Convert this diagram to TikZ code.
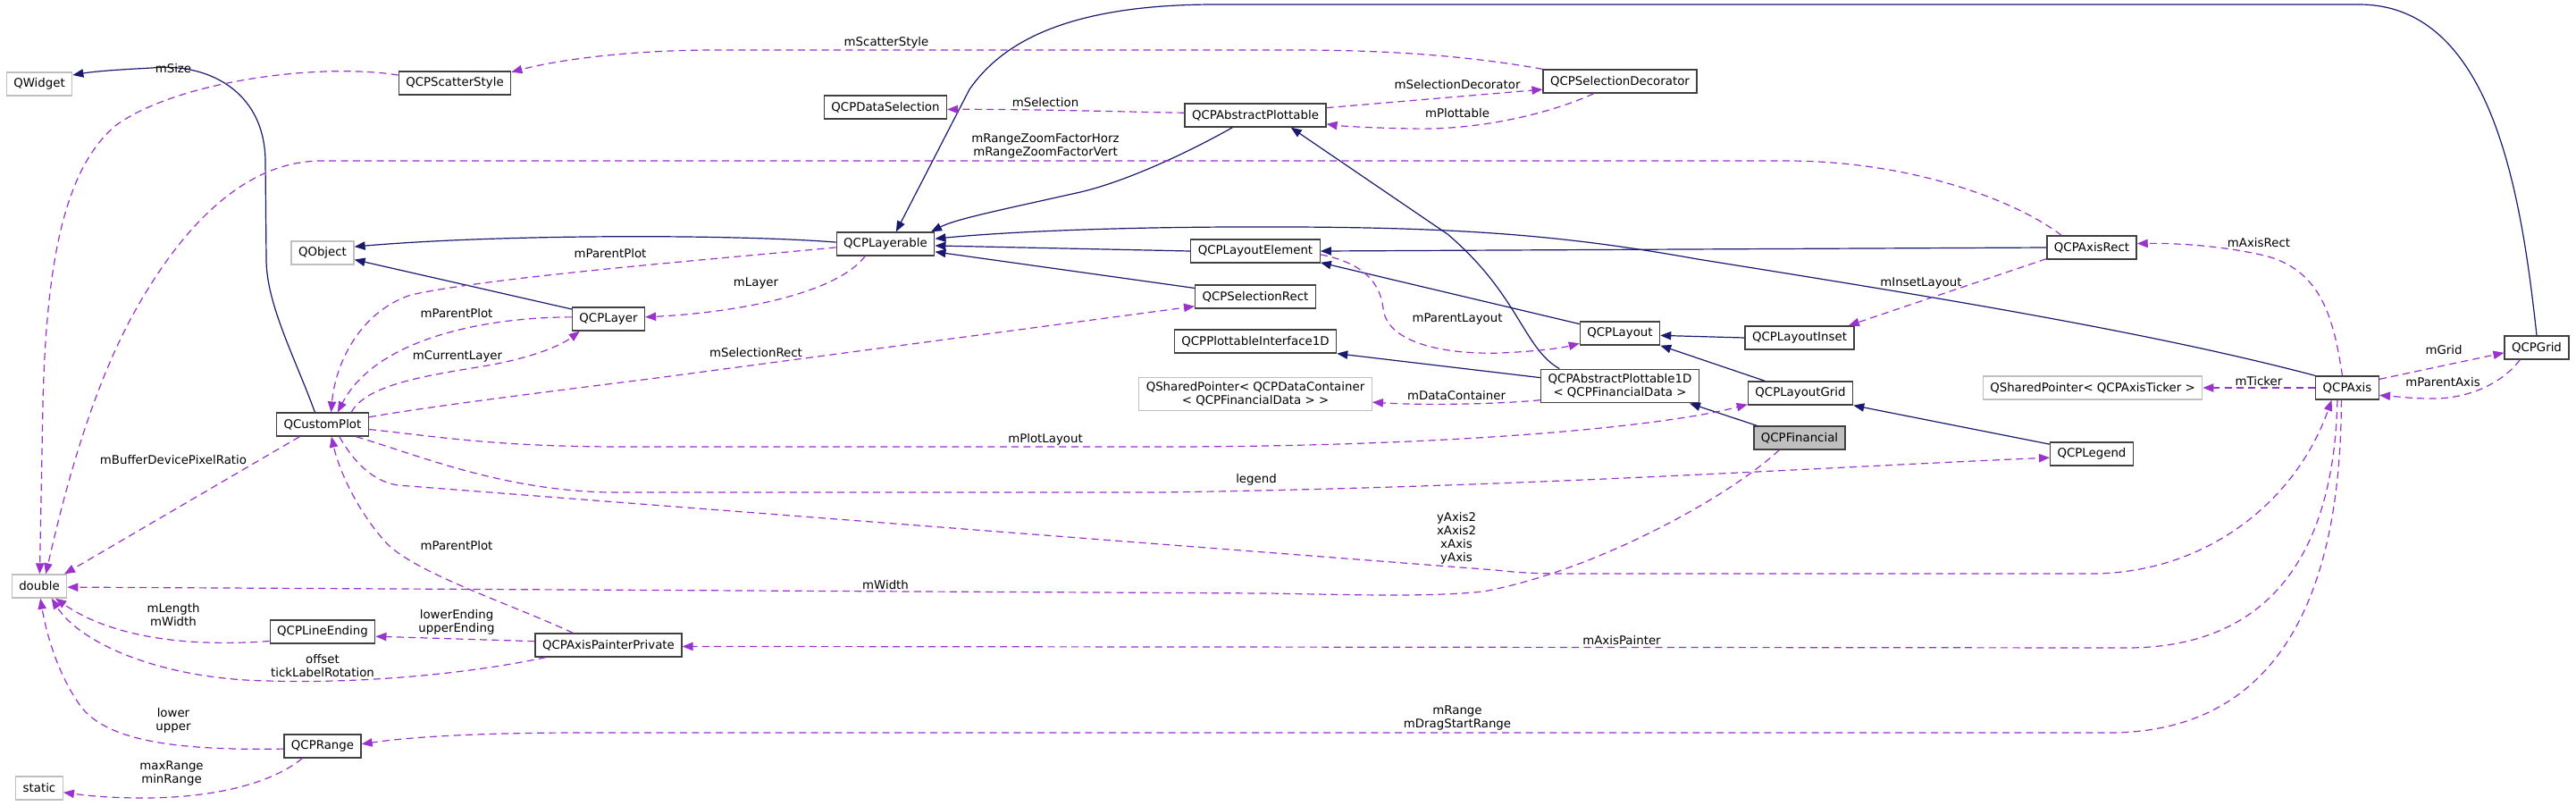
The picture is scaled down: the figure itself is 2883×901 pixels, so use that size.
\documentclass[tikz,border=0pt]{standalone}
\usepackage{fontspec}
\setmainfont{DejaVu Sans}
\usepackage{xcolor}
\usepackage{tikz}
\usetikzlibrary{arrows.meta}

\definecolor{herencia}{HTML}{191970}
\definecolor{uso}{HTML}{9A32CD}
\definecolor{externo}{HTML}{BFBFBF}
\definecolor{borde}{HTML}{404040}

\begin{document}
\begin{tikzpicture}[x=0.75pt, y=-0.75pt,
  clase/.style={draw=borde, line width=1pt, fill=white, font=\fontsize{10}{11.25}\selectfont, inner xsep=6pt, inner ysep=4pt, minimum height=19.5pt, align=center},
  externa/.style={clase, draw=externo},
  actual/.style={clase, fill=externo},
  etiqueta/.style={font=\fontsize{10}{11.25}\selectfont, inner sep=0pt, align=center},
  hereda/.style={draw=herencia, line width=0.9pt, -{Triangle[length=9pt,width=7pt]}},
  usa/.style={draw=uso, line width=0.9pt, dash pattern=on 6pt off 4pt, -{Triangle[length=9pt,width=7pt]}}]
\path[use as bounding box, fill=white] (0,0) rectangle (2883,901);

% Clases
\node[externa] (qwidget) at (44,94) {QWidget};
\node[clase] (scatter) at (509,93) {QCPScatterStyle};
\node[clase] (datasel) at (991,120) {QCPDataSelection};
\node[clase] (absplot) at (1405,129) {QCPAbstractPlottable};
\node[clase] (seldeco) at (1813,91) {QCPSelectionDecorator};
\node[externa] (qobject) at (361,283) {QObject};
\node[clase] (layerable) at (991,273) {QCPLayerable};
\node[clase] (layoutel) at (1405,281) {QCPLayoutElement};
\node[clase] (axisrect) at (2341,277) {QCPAxisRect};
\node[clase] (layer) at (681,357) {QCPLayer};
\node[clase] (selrect) at (1405,332) {QCPSelectionRect};
\node[clase] (layout) at (1813,373) {QCPLayout};
\node[clase] (plotif) at (1405,382) {QCPPlottableInterface1D};
\node[clase] (inset) at (2014,378) {QCPLayoutInset};
\node[clase] (grid) at (2839,389) {QCPGrid};
\node[clase] (custplot) at (361,475) {QCustomPlot};
\node[externa] (datacont) at (1405,441) {QSharedPointer< QCPDataContainer\\< QCPFinancialData > >};
\node[clase] (absplot1d) at (1813,432) {QCPAbstractPlottable1D\\< QCPFinancialData >};
\node[clase] (laygrid) at (2015,440) {QCPLayoutGrid};
\node[externa] (ticker) at (2342,434) {QSharedPointer< QCPAxisTicker >};
\node[clase] (axis) at (2627,434) {QCPAxis};
\node[actual] (financial) at (2014,490) {QCPFinancial};
\node[clase] (legend) at (2341,508) {QCPLegend};
\node[externa] (dbl) at (44,656) {double};
\node[clase] (lineend) at (361,707) {QCPLineEnding};
\node[clase] (painter) at (681,722) {QCPAxisPainterPrivate};
\node[clase] (range) at (361,835) {QCPRange};
\node[externa] (stat) at (44,882) {static};

% Herencia
\draw[hereda] (custplot.122) .. controls (330,400) and (298,340) .. (298,290) -- (297,180) .. controls (296,100) and (230,70) .. (170,76) .. controls (130,78) and (105,80) .. (qwidget.15);
\draw[hereda] (layerable.178) .. controls (820,262) and (560,262) .. (qobject.11);
\draw[hereda] (layer.165) -- (qobject.-12);
\draw[hereda] (absplot.208) .. controls (1340,165) and (1260,205) .. (1200,217) .. controls (1120,235) and (1070,245) .. (layerable.15);
\draw[hereda] (layoutel.180) -- (layerable.-2);
\draw[hereda] (selrect.172) -- (layerable.-9);
\draw[hereda] (grid.north) .. controls (2822,220) and (2790,5) .. (2640,5) -- (1360,5) .. controls (1190,5) and (1120,50) .. (1085,100) -- (layerable.49);
\draw[hereda] (axis.north west) .. controls (2400,370) and (2150,330) .. (1900,290) .. controls (1760,265) and (1650,255) .. (1450,254) .. controls (1250,253) and (1120,260) .. (layerable.6);
\draw[hereda] (layout.167) -- (layoutel.-10);
\draw[hereda] (axisrect.180) -- (layoutel.east);
\draw[hereda] (inset.180) -- (layout.-3);
\draw[hereda] (laygrid.161) -- (layout.south east);
\draw[hereda] (legend.167) -- (laygrid.south east);
\draw[hereda] (absplot1d.164) .. controls (1705,390) and (1700,330) .. (1620,262) -- (absplot.-19);
\draw[hereda] (absplot1d.174) -- (plotif.south east);
\draw[hereda] (financial.164) -- (absplot1d.-14);

% Miembros
\draw[usa] (seldeco.north west) .. controls (1640,62) and (1550,56) .. (1450,56) -- (800,56) .. controls (700,56) and (620,68) .. (scatter.11);
\draw[usa] (scatter.172) .. controls (360,70) and (200,90) .. (130,140) .. controls (70,190) and (52,300) .. (48,450) -- (dbl.88);
\draw[usa] (absplot.178) .. controls (1250,125) and (1150,122) .. (datasel.-2);
\draw[usa] (absplot.6) -- (seldeco.186);
\draw[usa] (seldeco.205) .. controls (1740,125) and (1660,146) .. (1580,144) .. controls (1530,143) and (1500,141) .. (absplot.-7);
\draw[usa] (axisrect.158) .. controls (2250,220) and (2130,180) .. (2000,180) -- (360,180) .. controls (270,180) and (200,260) .. (150,350) .. controls (100,440) and (70,560) .. (dbl.62);
\draw[usa] (layerable.184) .. controls (800,290) and (550,310) .. (460,330) .. controls (400,350) and (375,410) .. (custplot.55);
\draw[usa] (layerable.211) .. controls (935,330) and (820,350) .. (layer.3);
\draw[usa] (layer.177) .. controls (540,355) and (420,380) .. (custplot.39);
\draw[usa] (custplot.23) .. controls (410,430) and (480,420) .. (540,410) .. controls (600,400) and (630,385) .. (layer.203);
\draw[usa] (custplot.9) .. controls (480,455) and (600,440) .. (735,423) -- (selrect.189);
\draw[usa] (layoutel.-3) .. controls (1530,295) and (1545,320) .. (1548,345) .. controls (1552,385) and (1620,397) .. (1680,395) .. controls (1720,393) and (1745,390) .. (layout.194);
\draw[usa] (axisrect.194) -- (inset.14);
\draw[usa] (axis.112) .. controls (2612,360) and (2600,300) .. (2530,285) .. controls (2480,274) and (2430,272) .. (axisrect.5);
\draw[usa] (axis.15) -- (grid.189);
\draw[usa] (grid.216) .. controls (2800,430) and (2760,447) .. (2720,446) .. controls (2700,446) and (2685,444) .. (axis.-13);
\draw[usa] (axis.180) -- (ticker.east);
\draw[usa] (absplot1d.190) .. controls (1680,452) and (1600,454) .. (datacont.-4);
\draw[usa] (custplot.-6) .. controls (500,490) and (560,500) .. (700,500) -- (1300,500) .. controls (1600,500) and (1850,480) .. (laygrid.192);
\draw[usa] (custplot.-20) .. controls (470,510) and (560,548) .. (680,551) -- (1300,551) .. controls (1700,545) and (2000,525) .. (legend.185);
\draw[usa] (custplot.-36) .. controls (395,515) and (415,538) .. (445,543) -- (1674,638) .. controls (1700,641) and (1720,642) .. (1760,642) -- (2340,642) .. controls (2470,642) and (2570,560) .. (axis.218);
\draw[usa] (custplot.-152) -- (dbl.26);
\draw[usa] (painter.161) .. controls (570,675) and (460,640) .. (430,605) .. controls (395,565) and (378,520) .. (custplot.-54);
\draw[usa] (lineend.190) .. controls (200,725) and (120,710) .. (dbl.-37);
\draw[usa] (painter.177) -- (lineend.-5);
\draw[usa] (painter.191) .. controls (520,755) and (400,765) .. (300,762) .. controls (180,760) and (90,720) .. (dbl.-45);
\draw[usa] (range.184) .. controls (200,840) and (120,830) .. (90,790) .. controls (65,755) and (52,710) .. (dbl.-85);
\draw[usa] (range.211) .. controls (300,880) and (230,893) .. (160,893) .. controls (120,893) and (95,890) .. (stat.-10);
\draw[usa] (axis.231) .. controls (2612,620) and (2540,725) .. (2380,725) -- (painter.-1);
\draw[usa] (axis.244) .. controls (2620,650) and (2560,820) .. (2360,820) -- (650,820) .. controls (520,820) and (450,826) .. (range.3);
\draw[usa] (financial.211) .. controls (1930,560) and (1780,640) .. (1660,662) .. controls (1600,668) and (1530,666) .. (1420,664) -- (dbl.-2);

% Etiquetas
\node[etiqueta] (lScatter) at (992,48) {mScatterStyle};
\node[etiqueta] (lSize) at (194,77) {mSize};
\node[etiqueta] (lSelection) at (1170,115) {mSelection};
\node[etiqueta] (lSelDeco) at (1631,95) {mSelectionDecorator};
\node[etiqueta] (lPlottable) at (1631,127) {mPlottable};
\node[etiqueta] (lZoom) at (1170,164) {mRangeZoomFactorHorz\\mRangeZoomFactorVert};
\node[etiqueta] (lParentPlotA) at (683,284) {mParentPlot};
\node[etiqueta] (lLayer) at (846,317) {mLayer};
\node[etiqueta] (lParentPlotB) at (511,351) {mParentPlot};
\node[etiqueta] (lCurrentLayer) at (512,399) {mCurrentLayer};
\node[etiqueta] (lSelRect) at (846,395) {mSelectionRect};
\node[etiqueta] (lParentLayout) at (1631,357) {mParentLayout};
\node[etiqueta] (lInset) at (2150,317) {mInsetLayout};
\node[etiqueta] (lAxisRect) at (2528,272) {mAxisRect};
\node[etiqueta] (lGrid) at (2735,392) {mGrid};
\node[etiqueta] (lParentAxis) at (2734,428) {mParentAxis};
\node[etiqueta] (lTicker) at (2528,427) {mTicker};
\node[etiqueta] (lDataCont) at (1630,443) {mDataContainer};
\node[etiqueta] (lPlotLayout) at (1170,492) {mPlotLayout};
\node[etiqueta] (lLegend) at (1406,537) {legend};
\node[etiqueta] (lAxes) at (1630,602) {yAxis2\\xAxis2\\xAxis\\yAxis};
\node[etiqueta] (lBuffer) at (194,515) {mBufferDevicePixelRatio};
\node[etiqueta] (lParentPlotC) at (511,611) {mParentPlot};
\node[etiqueta] (lWidth) at (991,655) {mWidth};
\node[etiqueta] (lLength) at (194,688) {mLength\\mWidth};
\node[etiqueta] (lEnding) at (511,696) {lowerEnding\\upperEnding};
\node[etiqueta] (lOffset) at (361,745) {offset\\tickLabelRotation};
\node[etiqueta] (lAxisPainter) at (1815,717) {mAxisPainter};
\node[etiqueta] (lLower) at (194,806) {lower\\upper};
\node[etiqueta] (lRange) at (1631,804) {mRange\\mDragStartRange};
\node[etiqueta] (lMaxRange) at (192,866) {maxRange\\minRange};
\end{tikzpicture}
\end{document}
